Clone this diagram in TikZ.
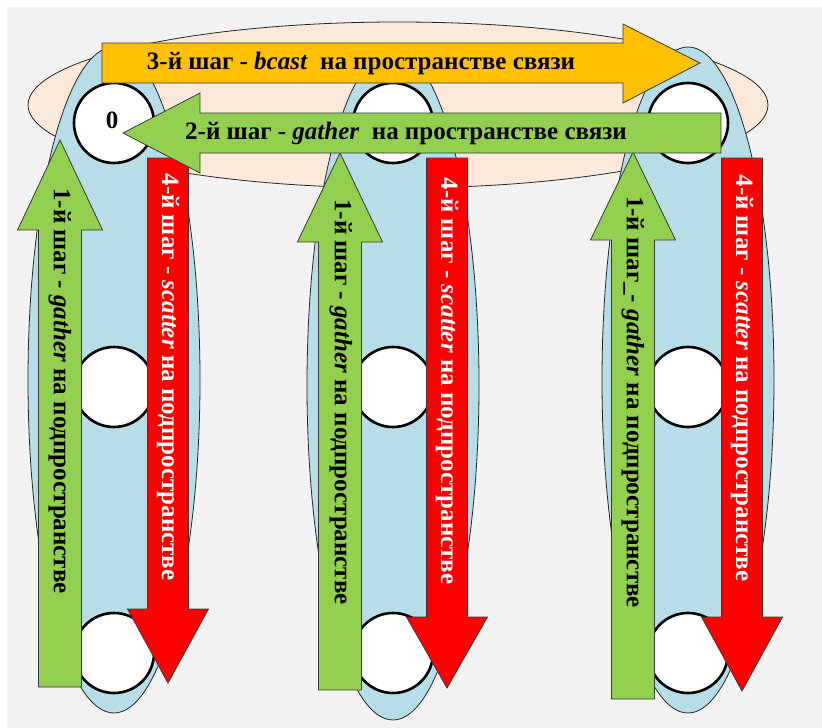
\documentclass[tikz,border=0pt]{standalone}
\usepackage{fontspec}
\setmainfont{Liberation Serif}
\usetikzlibrary{shapes.geometric}

\definecolor{bggray}{HTML}{F2F2F2}
\definecolor{peach}{HTML}{FDE9D9}
\definecolor{groupblue}{HTML}{B7DDE8}
\definecolor{bcastorange}{HTML}{FFC000}
\definecolor{gathergreen}{HTML}{92D050}
\definecolor{scatterred}{HTML}{FF0000}
\definecolor{arrowline}{HTML}{3A3A3A}

\begin{document}
\begin{tikzpicture}[
    x=1pt, y=-1pt,
    % Define styles
    group/.style={
        ellipse,
        draw=black!85,
        fill=groupblue,
        line width=0.8pt,
        inner sep=0pt,
        minimum width=172pt,
        minimum height=666pt
    },
    commspace/.style={
        ellipse,
        draw=black!85,
        fill=peach,
        line width=0.8pt,
        inner sep=0pt,
        minimum width=740pt,
        minimum height=166pt
    },
    proc/.style={
        circle,
        draw=black,
        fill=white,
        line width=2.6pt,
        minimum size=80pt,
        inner sep=0pt
    },
    blockarrow/.style={
        draw=arrowline,
        line width=0.8pt,
        line join=miter
    },
    step_text/.style={
        font=\bfseries\fontsize{25}{25}\selectfont,
        inner sep=0pt
    },
    vstep_text/.style={
        step_text,
        rotate=-90
    }
]

    % --- Background ---
    \useasboundingbox (0,0) rectangle (822,728);
    \fill[bggray] (7,7) rectangle (822,728);

    % --- Communication space and subspaces ---
    \node[commspace] (space) at (398,105) {};
    \node[group] (col1) at (114,380) {};
    \node[group, minimum height=670pt] (col2) at (393,385) {};
    \node[group] (col3) at (688,380) {};

    % Processes
    \foreach \c/\x in {1/114, 2/393, 3/688} {
        \foreach \r/\y in {1/123, 2/387, 3/653} {
            \node[proc] (p\c\r) at (\x,\y) {};
        }
    }
    \node[step_text] (zero) at (112,120) {0};

    % --- Step 1: gather up each column ---
    \foreach \cx/\ty/\by/\bb in {60/140/230/687, 340/153/242/690, 633/152/240/699} {
        \draw[blockarrow, fill=gathergreen]
            ({\cx-21.5},\bb) -- ({\cx-21.5},\by) -- ({\cx-42.5},\by) -- (\cx,\ty)
            -- ({\cx+42.5},\by) -- ({\cx+21.5},\by) -- ({\cx+21.5},\bb) -- cycle;
    }
    \node[vstep_text] (s1a) at (60,391) {1-й шаг - \textit{gather} на подпространстве};
    \node[vstep_text] (s1b) at (341,402) {1-й шаг - \textit{gather} на подпространстве};
    \node[vstep_text] (s1c) at (633,402) {1-й шаг\_- \textit{gather} на подпространстве};

    % --- Step 4: scatter down each column ---
    \foreach \cx/\tp/\by/\tip in {168/158/609/683, 447/158/617/688, 742/158/617/691} {
        \draw[blockarrow, fill=scatterred]
            ({\cx-20.5},\tp) -- ({\cx-20.5},\by) -- ({\cx-40.5},\by) -- (\cx,\tip)
            -- ({\cx+40.5},\by) -- ({\cx+20.5},\by) -- ({\cx+20.5},\tp) -- cycle;
    }
    \node[vstep_text, text=white] (s4a) at (168,377) {4-й шаг - \textit{scatter} на подпространстве};
    \node[vstep_text, text=white] (s4b) at (447,381) {4-й шаг - \textit{scatter} на подпространстве};
    \node[vstep_text, text=white] (s4c) at (742,378) {4-й шаг - \textit{scatter} на подпространстве};

    % --- Step 3: bcast (orange, to the right) ---
    \draw[blockarrow, fill=bcastorange]
        (102,43) -- (623,43) -- (623,24) -- (700,63) -- (623,103) -- (623,83) -- (102,83) -- cycle;
    \node[step_text] (s3) at (361,63) {3-й шаг - \textit{bcast}\ \ на пространстве связи};

    % --- Step 2: gather (green, to the left) ---
    \draw[blockarrow, fill=gathergreen]
        (721,113) -- (200,113) -- (200,93) -- (123,133) -- (200,173) -- (200,153) -- (721,153) -- cycle;
    \node[step_text] (s2) at (406,133) {2-й шаг - \textit{gather}\ \ на пространстве связи};

\end{tikzpicture}
\end{document}
